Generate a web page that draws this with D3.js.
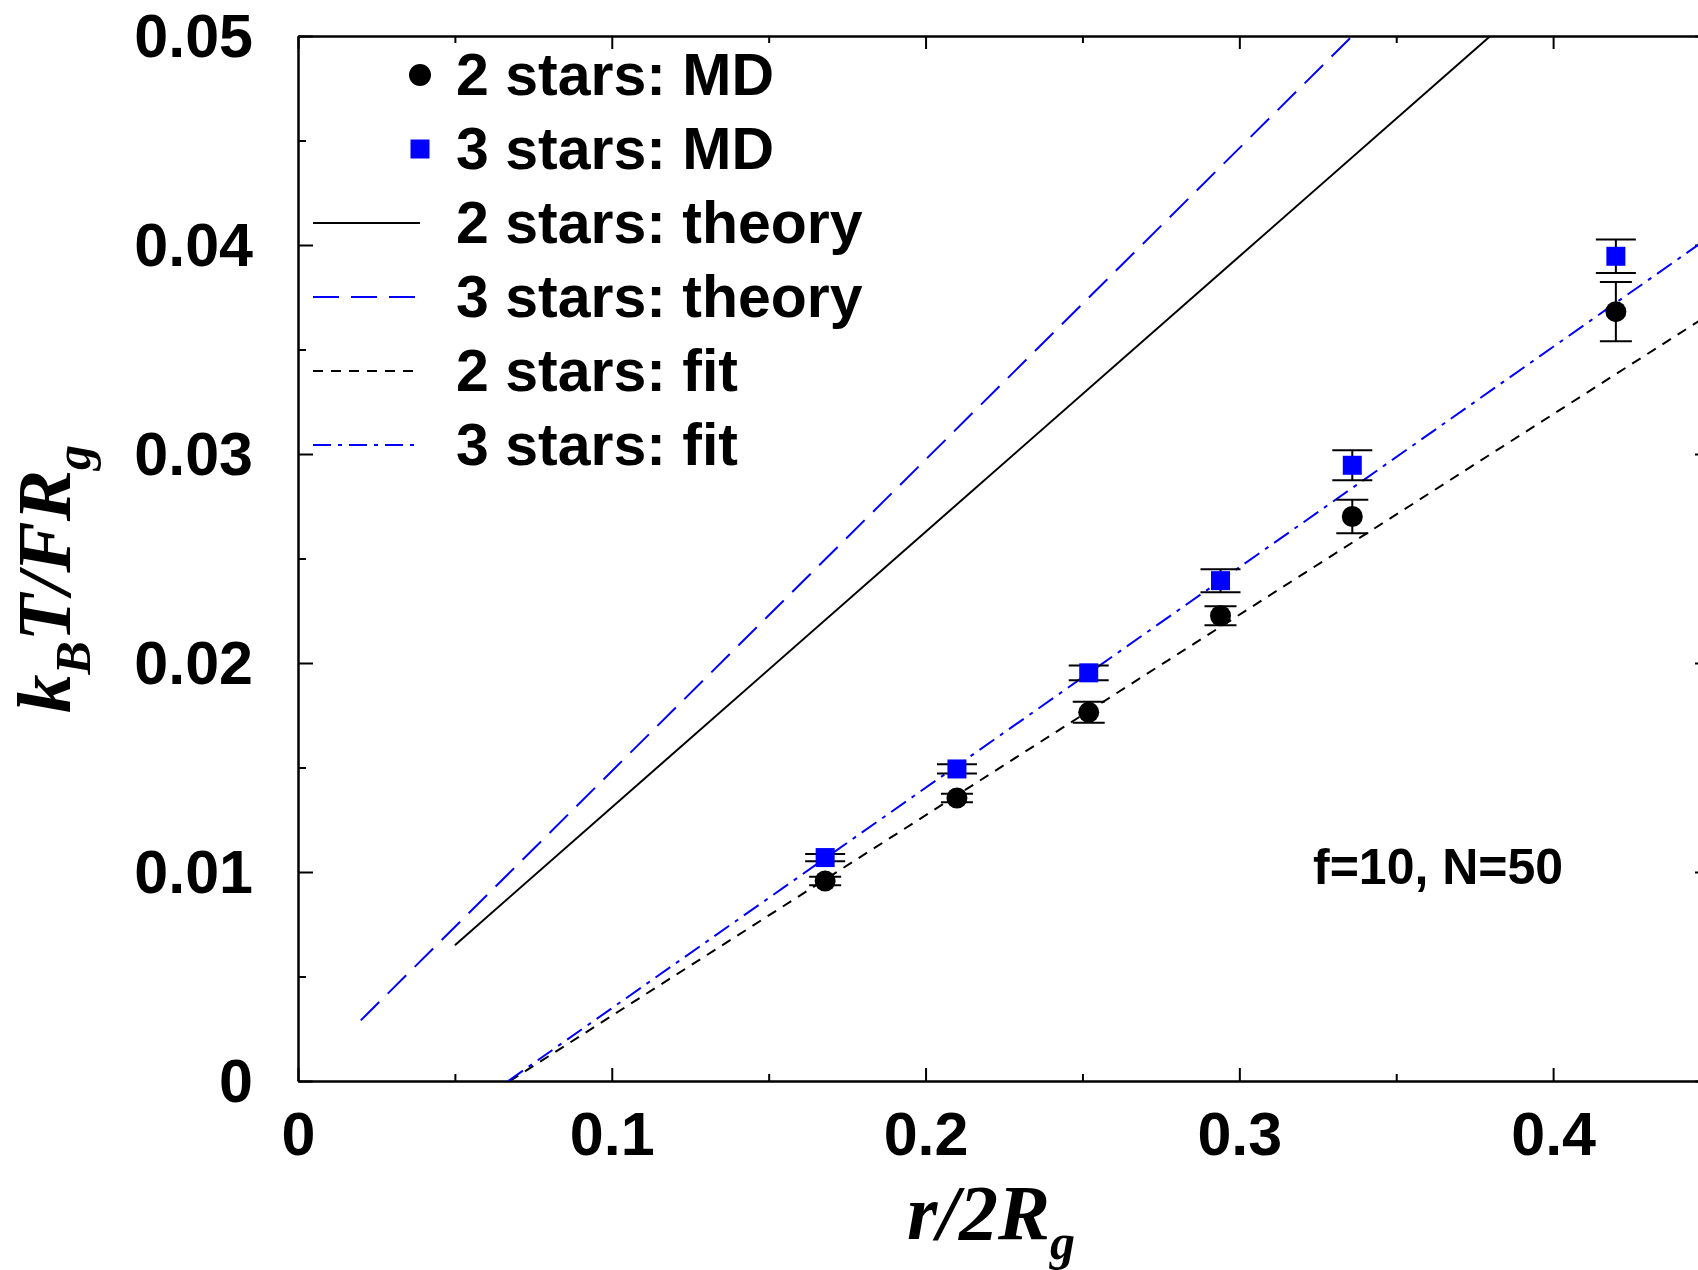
<!DOCTYPE html>
<html>
<head>
<meta charset="utf-8">
<script src="https://cdn.jsdelivr.net/npm/d3@7"></script>
<style>
  body { margin: 0; background: #fff; }
  .axis text { font-family: "Liberation Sans", Arial, sans-serif; font-weight: bold; font-size: 61px; fill: #000; }
  .axis path, .axis line { stroke: #000; stroke-width: 2px; }
  .legend text { font-family: "Liberation Sans", Arial, sans-serif; font-weight: bold; font-size: 59px; }
  .title { font-family: "Liberation Serif", "Times New Roman", serif; font-weight: bold; font-style: italic; }
</style>
</head>
<body>
<div id="chart"></div>
<script>
// MD points (r/2Rg) and their error bars
var xMD = [0.168, 0.21, 0.252, 0.294, 0.336, 0.42];
var md2 = [0.00957, 0.01354, 0.01764, 0.02226, 0.02701, 0.03681];
var md2err = [0.0002, 0.0002, 0.0005, 0.00045, 0.0008, 0.00142];
var md3 = [0.01069, 0.01493, 0.01953, 0.02394, 0.02946, 0.03946];
var md3err = [0.00017, 0.00022, 0.00035, 0.00055, 0.00072, 0.0008];

// theory and fit lines (end points)
var theory2X = [0.05, 0.38];
var theory2Y = [0.0065, 0.05];
var theory3X = [0.02, 0.336];
var theory3Y = [0.0029, 0.05];
var fit2X = [0.0675, 0.45];
var fit2Y = [0, 0.0367];
var fit3X = [0.067, 0.45];
var fit3Y = [0, 0.0404];

var xTicks = [0, 0.1, 0.2, 0.3, 0.4];
var xTickLabels = ["0", "0.1", "0.2", "0.3", "0.4"];
var xMinor = [0.05, 0.15, 0.25, 0.35];
var yTicks = [0, 0.01, 0.02, 0.03, 0.04, 0.05];
var yTickLabels = ["0", "0.01", "0.02", "0.03", "0.04", "0.05"];
var yMinor = [0.005, 0.015, 0.025, 0.035, 0.045];

var legendLabels = ["2 stars: MD", "3 stars: MD", "2 stars: theory", "3 stars: theory", "2 stars: fit", "3 stars: fit"];

var W = 1698, H = 1270;
var margin = {top: 36, left: 298};
var width = 1412, height = 1045;

var x = d3.scaleLinear().domain([0, 0.45]).range([0, width]);
var y = d3.scaleLinear().domain([0, 0.05]).range([height, 0]);

var svg = d3.select("#chart").append("svg")
    .attr("width", W)
    .attr("height", H);

var g = svg.append("g")
    .attr("transform", "translate(" + margin.left + "," + margin.top + ")");

g.append("clipPath").attr("id", "clip")
  .append("rect").attr("width", width).attr("height", height);

// axes: major with labels, minor without, ticks pointing in
var major = 13, minor = 7;
g.append("g").attr("class", "axis")
    .attr("transform", "translate(0," + height + ")")
    .call(d3.axisBottom(x).tickValues(xTicks).tickSizeInner(-major).tickSizeOuter(0).tickPadding(31)
      .tickFormat(function(d, i) { return xTickLabels[i]; }));
g.append("g").attr("class", "axis")
    .attr("transform", "translate(0," + height + ")")
    .call(d3.axisBottom(x).tickValues(xMinor).tickSizeInner(-minor).tickSizeOuter(0).tickFormat(""));
g.append("g").attr("class", "axis")
    .call(d3.axisTop(x).tickValues(xTicks).tickSizeInner(-major).tickSizeOuter(0).tickFormat(""));
g.append("g").attr("class", "axis")
    .call(d3.axisTop(x).tickValues(xMinor).tickSizeInner(-minor).tickSizeOuter(0).tickFormat(""));

g.append("g").attr("class", "axis")
    .call(d3.axisLeft(y).tickValues(yTicks).tickSizeInner(-15).tickSizeOuter(0).tickPadding(45)
      .tickFormat(function(d, i) { return yTickLabels[i]; }))
  .selectAll("text").attr("dy", "0.34em");
g.append("g").attr("class", "axis")
    .call(d3.axisLeft(y).tickValues(yMinor).tickSizeInner(-8).tickSizeOuter(0).tickFormat(""));
g.append("g").attr("class", "axis")
    .attr("transform", "translate(" + width + ",0)")
    .call(d3.axisRight(y).tickValues(yTicks).tickSizeInner(-15).tickSizeOuter(0).tickFormat(""));
g.append("g").attr("class", "axis")
    .attr("transform", "translate(" + width + ",0)")
    .call(d3.axisRight(y).tickValues(yMinor).tickSizeInner(-8).tickSizeOuter(0).tickFormat(""));

// lines
var line = d3.line()
    .x(function(d) { return x(d[0]); })
    .y(function(d) { return y(d[1]); });

var series = [
  {xs: theory2X, ys: theory2Y, color: "#000", dash: null},
  {xs: theory3X, ys: theory3Y, color: "#0000ff", dash: "26,12"},
  {xs: fit2X, ys: fit2Y, color: "#000", dash: "10,8"},
  {xs: fit3X, ys: fit3Y, color: "#0000ff", dash: "18,7,4,7"}
];

var plot = g.append("g").attr("clip-path", "url(#clip)");
plot.selectAll(".ln")
    .data(series)
  .enter().append("path")
    .attr("class", "ln")
    .attr("d", function(s) { return line(s.xs.map(function(v, i) { return [v, s.ys[i]]; })); })
    .attr("fill", "none")
    .attr("stroke", function(s) { return s.color; })
    .attr("stroke-width", 2)
    .attr("stroke-dasharray", function(s) { return s.dash; });

// error bars
function errorBars(vals, errs, capw) {
  var pts = xMD.map(function(v, i) { return {x: v, y: vals[i], e: errs[i]}; });
  var eb = plot.append("g").attr("stroke", "#000").attr("stroke-width", 2);
  eb.selectAll(".v").data(pts).enter().append("line")
      .attr("x1", function(d) { return x(d.x); })
      .attr("x2", function(d) { return x(d.x); })
      .attr("y1", function(d) { return y(d.y - d.e); })
      .attr("y2", function(d) { return y(d.y + d.e); });
  [-1, 1].forEach(function(s) {
    eb.selectAll(".c" + s).data(pts).enter().append("line")
        .attr("x1", function(d) { return x(d.x) - capw / 2; })
        .attr("x2", function(d) { return x(d.x) + capw / 2; })
        .attr("y1", function(d) { return y(d.y + s * d.e); })
        .attr("y2", function(d) { return y(d.y + s * d.e); });
  });
}
errorBars(md2, md2err, 32);
errorBars(md3, md3err, 40);

// markers
plot.selectAll(".dot")
    .data(md2)
  .enter().append("circle")
    .attr("cx", function(d, i) { return x(xMD[i]); })
    .attr("cy", function(d) { return y(d); })
    .attr("r", 10.5)
    .attr("fill", "#000");

var sq = 19;
plot.selectAll(".sq")
    .data(md3)
  .enter().append("rect")
    .attr("x", function(d, i) { return x(xMD[i]) - sq / 2; })
    .attr("y", function(d) { return y(d) - sq / 2; })
    .attr("width", sq)
    .attr("height", sq)
    .attr("fill", "#0000ff");

// legend
var legend = svg.append("g").attr("class", "legend");
var lx1 = 313, lx2 = 420, ltext = 456, ly0 = 75, lstep = 74;
legendLabels.forEach(function(lab, i) {
  var cy = ly0 + i * lstep;
  if (i == 0) {
    legend.append("circle").attr("cx", lx2).attr("cy", cy).attr("r", 11).attr("fill", "#000");
  } else if (i == 1) {
    legend.append("rect").attr("x", lx2 - 9.5).attr("y", cy - 9.5).attr("width", 19).attr("height", 19).attr("fill", "#0000ff");
  } else {
    var s = series[i - 2];
    legend.append("line")
        .attr("x1", lx1).attr("x2", lx2).attr("y1", cy).attr("y2", cy)
        .attr("stroke", s.color).attr("stroke-width", 2)
        .attr("stroke-dasharray", s.dash);
  }
  legend.append("text").attr("x", ltext).attr("y", cy + 20).text(lab);
});

// annotation
svg.append("text")
    .attr("x", 1313).attr("y", 884)
    .style("font-family", "'Liberation Sans', Arial, sans-serif")
    .style("font-weight", "bold")
    .style("font-size", "50px")
    .text("f=10, N=50");

// axis titles
var xt = svg.append("text").attr("class", "title")
    .attr("x", 907).attr("y", 1239)
    .style("font-size", "78px");
xt.append("tspan").text("r/2R");
xt.append("tspan").attr("dy", 20).style("font-size", "50px").text("g");

var yt = svg.append("text").attr("class", "title")
    .attr("transform", "translate(70,713) rotate(-90)")
    .style("font-size", "77px");
yt.append("tspan").text("k");
yt.append("tspan").attr("dy", 20).style("font-size", "50px").text("B");
yt.append("tspan").attr("dy", -20).text("T/FR");
yt.append("tspan").attr("dy", 20).style("font-size", "50px").text("g");
</script>
</body>
</html>
